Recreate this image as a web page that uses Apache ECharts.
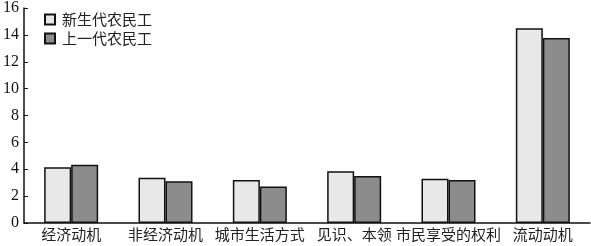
<!DOCTYPE html>
<html><head><meta charset="utf-8">
<script src="https://cdn.jsdelivr.net/npm/echarts@6/dist/echarts.min.js"></script>
<style>html,body{margin:0;padding:0;background:#fff}#c{width:591px;height:246px}</style>
</head><body><div id="c"></div>
<script>
const categories = ['经济动机','非经济动机','城市生活方式','见识、本领','市民享受的权利','流动动机'];
const newGen = [4.15, 3.37, 3.2, 3.85, 3.3, 14.5];
const oldGen = [4.34, 3.1, 2.71, 3.49, 3.2, 13.77];
const seriesNames = ['新生代农民工','上一代农民工'];
const yTicks = [0, 16, 2];

const cjk = 'Noto Sans CJK SC';
const chart = echarts.init(document.getElementById('c'), null, {renderer:'canvas'});
chart.setOption({
  animation:false,
  grid:{left:22,right:1,top:5,bottom:23,containLabel:false},
  legend:{
    orient:'vertical', left:39, top:7, itemWidth:10, itemHeight:10, itemGap:4,
    textStyle:{fontFamily:cjk, fontSize:15, color:'#222', padding:[0,0,0,2]},
    data:seriesNames.map(n=>({name:n, icon:'rect'}))
  },
  xAxis:{
    type:'category', data:categories,
    axisLine:{lineStyle:{color:'#111',width:1.5}},
    axisTick:{inside:true,length:4,lineStyle:{color:'#111'}},
    axisLabel:{fontFamily:cjk,fontSize:15,color:'#222',margin:4,interval:0}
  },
  yAxis:{
    type:'value', min:yTicks[0], max:yTicks[1], interval:yTicks[2],
    splitLine:{show:false},
    axisLine:{show:true,lineStyle:{color:'#111',width:1.5}},
    axisTick:{show:true,inside:true,length:4,lineStyle:{color:'#111'}},
    axisLabel:{fontFamily:'Liberation Serif',fontSize:16,color:'#111',margin:5}
  },
  series:[
    {name:seriesNames[0],type:'bar',data:newGen,barWidth:27,barGap:'0%',
     itemStyle:{color:'#e8e8e8',borderColor:'#111',borderWidth:1.5}},
    {name:seriesNames[1],type:'bar',data:oldGen,barWidth:27,barGap:'0%',
     itemStyle:{color:'#8c8c8c',borderColor:'#111',borderWidth:1.5}}
  ]
});
</script></body></html>
